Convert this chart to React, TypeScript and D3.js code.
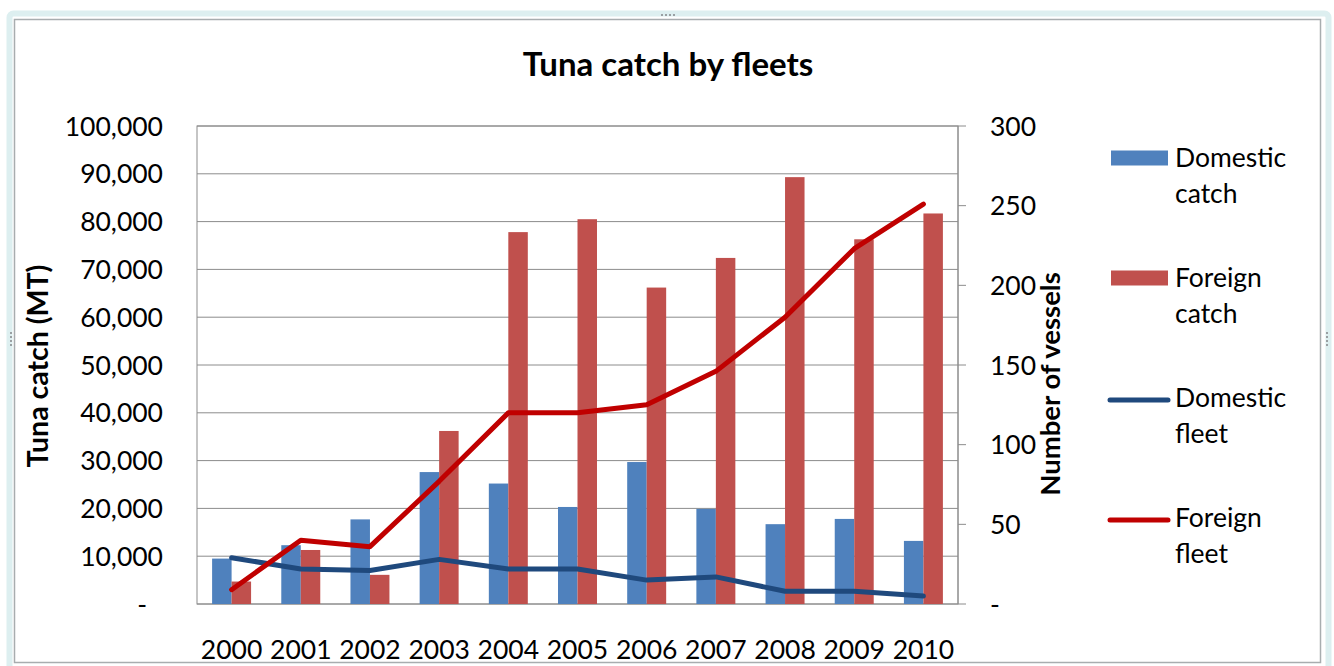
import React from "react";
import * as d3 from "d3";

// data
const years = ["2000", "2001", "2002", "2003", "2004", "2005", "2006", "2007", "2008", "2009", "2010"];
const domesticCatch = [9500, 12300, 17700, 27600, 25200, 20300, 29700, 19900, 16700, 17800, 13200];
const foreignCatch = [4700, 11300, 6100, 36200, 77800, 80500, 66200, 72400, 89300, 76300, 81700];
const domesticFleet = [29, 22, 21, 28, 22, 22, 15, 17, 8, 8, 5];
const foreignFleet = [9, 40, 36, 77, 120, 120, 125, 146, 180, 223, 251];
const leftTicks = [0, 10000, 20000, 30000, 40000, 50000, 60000, 70000, 80000, 90000, 100000];
const rightTicks = [0, 50, 100, 150, 200, 250, 300];

const W = 1334;
const H = 666;
const FONT = "Lato, 'Open Sans', sans-serif";

const plot = { left: 197, right: 958, top: 126, bottom: 604 };

const fmtComma = d3.format(",");

export default function App() {
  const x0 = d3.scaleBand<string>().domain(years).range([plot.left, plot.right]);
  const x1 = d3
    .scaleBand<string>()
    .domain(["dom", "for"])
    .range([0, x0.bandwidth()])
    .paddingOuter(0.775);
  const yL = d3.scaleLinear().domain([0, 100000]).range([plot.bottom, plot.top]);
  const yR = d3.scaleLinear().domain([0, 300]).range([plot.bottom, plot.top]);
  const cx = (y: string) => (x0(y) as number) + x0.bandwidth() / 2;

  const line = d3
    .line<number>()
    .x((_, i) => cx(years[i]))
    .y((d) => yR(d));

  const legend = [
    { kind: "rect", color: "#4F81BD", l1: "Domestic", l2: "catch" },
    { kind: "rect", color: "#C0504D", l1: "Foreign", l2: "catch" },
    { kind: "line", color: "#1F497D", l1: "Domestic", l2: "fleet" },
    { kind: "line", color: "#C00000", l1: "Foreign", l2: "fleet" },
  ];

  return (
    <svg
      width={W}
      height={H}
      style={{ position: "absolute", left: 0, top: 0, background: "#fff" }}
      fontFamily={FONT}
    >
      {/* frame */}
      <rect x={9.5} y={13.5} width={1319} height={660} rx={4} fill="none" stroke="#DDEFF0" strokeWidth={6} />
      <rect x={14.5} y={19.5} width={1306} height={643} fill="none" stroke="#A8ADAF" strokeWidth={1.5} />
      {[0, 1, 2, 3].map((i) => (
        <rect key={"td" + i} x={661 + i * 4} y={14} width={2} height={2} fill="#9AA0A3" />
      ))}
      {[0, 1, 2, 3].map((i) => (
        <rect key={"rd" + i} x={1326} y={332 + i * 4} width={2} height={2} fill="#9AA0A3" />
      ))}
      {[0, 1, 2, 3].map((i) => (
        <rect key={"ld" + i} x={10} y={332 + i * 4} width={2} height={2} fill="#9AA0A3" />
      ))}

      {/* title */}
      <text x={668} y={76} textAnchor="middle" fontWeight="bold" fontSize={33}>
        Tuna catch by fleets
      </text>

      {/* gridlines */}
      {leftTicks.map((t) => (
        <line key={"g" + t} x1={plot.left} x2={plot.right} y1={yL(t)} y2={yL(t)} stroke="#8C8C8C" strokeWidth={1} />
      ))}
      <rect
        x={plot.left}
        y={plot.top}
        width={plot.right - plot.left}
        height={plot.bottom - plot.top}
        fill="none"
        stroke="#8C8C8C"
      />

      {/* bars */}
      {years.map((yr, i) => (
        <g key={"b" + yr}>
          <rect
            x={(x0(yr) as number) + (x1("dom") as number)}
            y={yL(domesticCatch[i])}
            width={x1.bandwidth()}
            height={plot.bottom - yL(domesticCatch[i])}
            fill="#4F81BD"
          />
          <rect
            x={(x0(yr) as number) + (x1("for") as number)}
            y={yL(foreignCatch[i])}
            width={x1.bandwidth()}
            height={plot.bottom - yL(foreignCatch[i])}
            fill="#C0504D"
          />
        </g>
      ))}

      {/* lines */}
      <path d={line(domesticFleet) || ""} fill="none" stroke="#1F497D" strokeWidth={5} strokeLinejoin="round" strokeLinecap="round" />
      <path d={line(foreignFleet) || ""} fill="none" stroke="#C00000" strokeWidth={5} strokeLinejoin="round" strokeLinecap="round" />

      {/* left axis */}
      {leftTicks.map((t) => (
        <text
          key={"lt" + t}
          x={t === 0 ? 147 : 163}
          y={yL(t)}
          dy="0.36em"
          textAnchor="end"
          fontSize={26.5}
        >
          {t === 0 ? "-" : fmtComma(t)}
        </text>
      ))}
      <text
        transform={`translate(48, 366) rotate(-90)`}
        textAnchor="middle"
        fontWeight="bold"
        fontSize={28.5}
      >
        Tuna catch (MT)
      </text>

      {/* right axis */}
      <line x1={plot.right} x2={plot.right} y1={plot.top} y2={plot.bottom} stroke="#8C8C8C" />
      {rightTicks.map((t) => (
        <g key={"rt" + t}>
          <line x1={plot.right} x2={plot.right + 8} y1={yR(t)} y2={yR(t)} stroke="#8C8C8C" />
          <text x={990} y={yR(t)} dy="0.36em" fontSize={26.5}>
            {t === 0 ? "-" : String(t)}
          </text>
        </g>
      ))}
      <text
        transform={`translate(1060, 384) rotate(-90)`}
        textAnchor="middle"
        fontWeight="bold"
        fontSize={27.5}
      >
        Number of vessels
      </text>

      {/* x labels */}
      {years.map((yr) => (
        <text key={"xl" + yr} x={cx(yr)} y={659} textAnchor="middle" fontSize={26.5}>
          {yr}
        </text>
      ))}

      {/* legend */}
      {legend.map((l, i) => {
        const yc = 158 + i * 120;
        return (
          <g key={"lg" + i}>
            {l.kind === "rect" ? (
              <rect x={1111} y={yc - 7.5} width={57} height={15} fill={l.color} />
            ) : (
              <line x1={1110} x2={1168} y1={yc + 2} y2={yc + 2} stroke={l.color} strokeWidth={5} strokeLinecap="round" />
            )}
            <text x={1175} y={yc + 9} fontSize={26.5}>
              {l.l1}
            </text>
            <text x={1175} y={yc + 45} fontSize={26.5}>
              {l.l2}
            </text>
          </g>
        );
      })}
    </svg>
  );
}
